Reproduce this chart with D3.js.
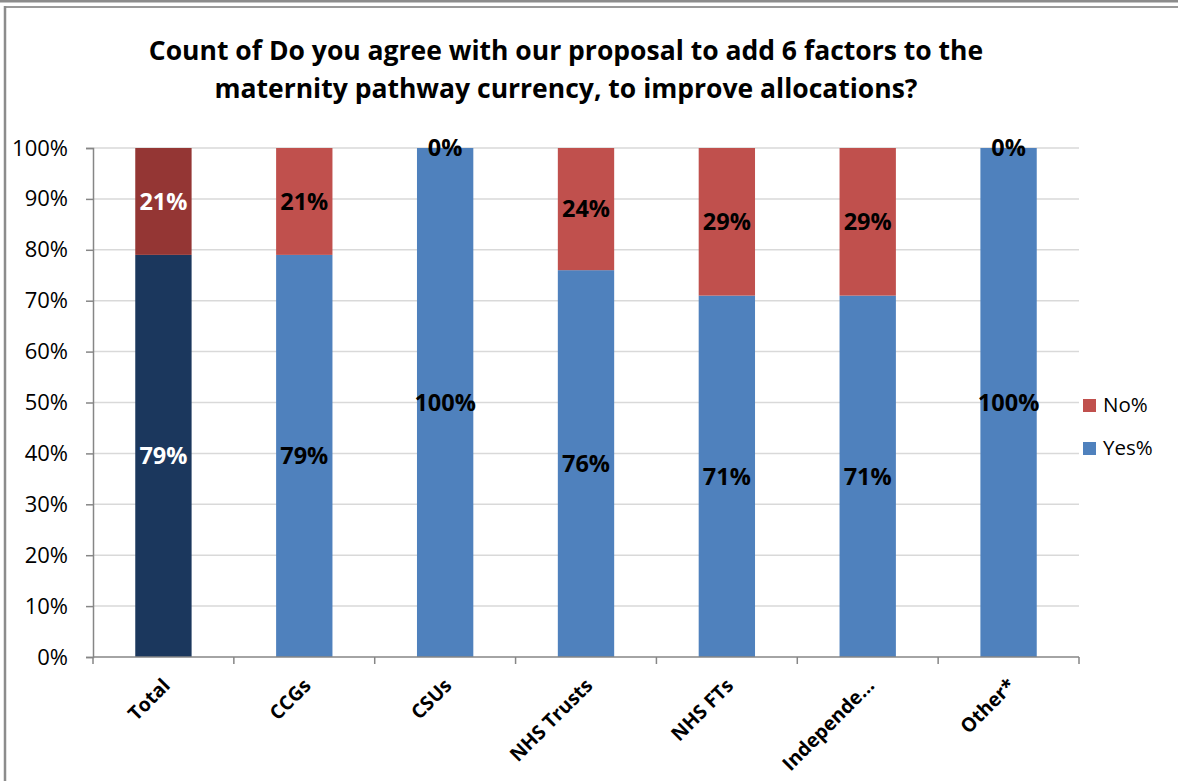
<!DOCTYPE html>
<html>
<head>
<meta charset="utf-8">
<script src="https://cdn.jsdelivr.net/npm/d3@7"></script>
<style>
  html, body { margin: 0; padding: 0; background: #fff; }
  svg { display: block; }
  text { font-family: "Open Sans", "Noto Sans", sans-serif; }
</style>
</head>
<body>
<svg id="chart" width="1178" height="781"></svg>
<script>
// Survey responses by organisation type
const categories = ["Total", "CCGs", "CSUs", "NHS Trusts", "NHS FTs", "Independe\u2026", "Other*"];
const yesPct = [79, 79, 100, 76, 71, 71, 100];
const noPct  = [21, 21, 0, 24, 29, 29, 0];
const yTicks = [0, 10, 20, 30, 40, 50, 60, 70, 80, 90, 100];
const seriesNames = ["No%", "Yes%"];
const titleLines = [
  "Count of Do you agree with our proposal to add 6 factors to the",
  "maternity pathway currency, to improve allocations?"
];

const W = 1178, H = 781;
const margin = { left: 93, right: 1079, top: 148, bottom: 657 };

const colors = {
  yes: "#4F81BD", no: "#C0504D",
  yesTotal: "#1B375D", noTotal: "#943634"
};

const svg = d3.select("#chart");

// outer frame
svg.append("rect").attr("x", 0).attr("y", 0).attr("width", W).attr("height", 2.5).attr("fill", "#8c8c8c");
svg.append("line").attr("x1", 5).attr("x2", W).attr("y1", 7).attr("y2", 7)
  .attr("stroke", "#9a9a9a").attr("stroke-width", 2);
svg.append("line").attr("x1", 5).attr("x2", 5).attr("y1", 6).attr("y2", H)
  .attr("stroke", "#8c8c8c").attr("stroke-width", 2.5);

// title
svg.append("g").selectAll("text").data(titleLines).join("text")
  .attr("x", 566).attr("y", (d, i) => 60 + i * 38)
  .attr("text-anchor", "middle")
  .attr("font-size", 26.5).attr("font-weight", 700).attr("fill", "#000")
  .text(d => d);

const x = d3.scaleBand().domain(categories).range([margin.left, margin.right]).paddingInner(0.6).paddingOuter(0.3);
const y = d3.scaleLinear().domain([0, 100]).range([margin.bottom, margin.top]);

// gridlines
svg.append("g").selectAll("line").data(yTicks.filter(t => t > 0)).join("line")
  .attr("x1", margin.left).attr("x2", margin.right)
  .attr("y1", d => y(d)).attr("y2", d => y(d))
  .attr("stroke", "#D9D9D9").attr("stroke-width", 1.5);

// y axis
const yAxis = svg.append("g").attr("transform", `translate(${margin.left},0)`)
  .call(d3.axisLeft(y).tickValues(yTicks).tickFormat(d => d + "%").tickSize(7).tickPadding(18));
yAxis.select(".domain").attr("stroke", "#868686").attr("stroke-width", 1.5);
yAxis.selectAll(".tick line").attr("stroke", "#868686").attr("stroke-width", 1.5);
yAxis.selectAll(".tick text").attr("font-size", 22).attr("fill", "#000")
  .attr("font-family", "'Open Sans', sans-serif");

// stacked bars
const rows = categories.map((c, i) => ({ cat: c, yes: yesPct[i], no: noPct[i], total: i === 0 }));
const barG = svg.append("g");
rows.forEach(r => {
  barG.append("rect")
    .attr("x", x(r.cat)).attr("width", x.bandwidth())
    .attr("y", y(r.yes)).attr("height", y(0) - y(r.yes))
    .attr("fill", r.total ? colors.yesTotal : colors.yes);
  if (r.no > 0) {
    barG.append("rect")
      .attr("x", x(r.cat)).attr("width", x.bandwidth())
      .attr("y", y(r.yes + r.no)).attr("height", y(r.yes) - y(r.yes + r.no))
      .attr("fill", r.total ? colors.noTotal : colors.no);
  }
});

// x axis
const xEdges = d3.range(categories.length + 1).map(i => margin.left + i * (margin.right - margin.left) / categories.length);
svg.append("line").attr("x1", margin.left).attr("x2", margin.right)
  .attr("y1", y(0)).attr("y2", y(0)).attr("stroke", "#868686").attr("stroke-width", 1.5);
svg.append("g").selectAll("line").data(xEdges).join("line")
  .attr("x1", d => d).attr("x2", d => d).attr("y1", y(0)).attr("y2", y(0) + 7)
  .attr("stroke", "#868686").attr("stroke-width", 1.5);
svg.append("g").selectAll("text").data(categories).join("text")
  .attr("transform", d => `translate(${x(d) + x.bandwidth() / 2 + 3},${y(0) + 25}) rotate(-45)`)
  .attr("text-anchor", "end").attr("dy", "0.35em")
  .attr("font-size", 19.5).attr("font-weight", 700).attr("fill", "#000")
  .text(d => d);

// value labels
const labG = svg.append("g").attr("font-size", 23.5).attr("font-weight", 700).attr("text-anchor", "middle");
rows.forEach(r => {
  const cx = x(r.cat) + x.bandwidth() / 2;
  labG.append("text").attr("x", cx).attr("y", y(r.yes / 2)).attr("dy", "0.35em")
    .attr("fill", r.total ? "#fff" : "#000").text(r.yes + "%");
  labG.append("text").attr("x", cx).attr("y", y(r.yes + r.no / 2)).attr("dy", "0.35em")
    .attr("fill", r.total ? "#fff" : "#000").text(r.no + "%");
});

// legend
const legend = svg.append("g");
seriesNames.forEach((s, i) => {
  const ly = 405 + i * 43;
  legend.append("rect").attr("x", 1083).attr("y", ly - 6).attr("width", 13).attr("height", 13)
    .attr("fill", i === 0 ? colors.no : colors.yes);
  legend.append("text").attr("x", 1103).attr("y", ly).attr("dy", "0.35em")
    .attr("font-size", 20.5).attr("fill", "#000").text(s);
});
</script>
</body>
</html>
